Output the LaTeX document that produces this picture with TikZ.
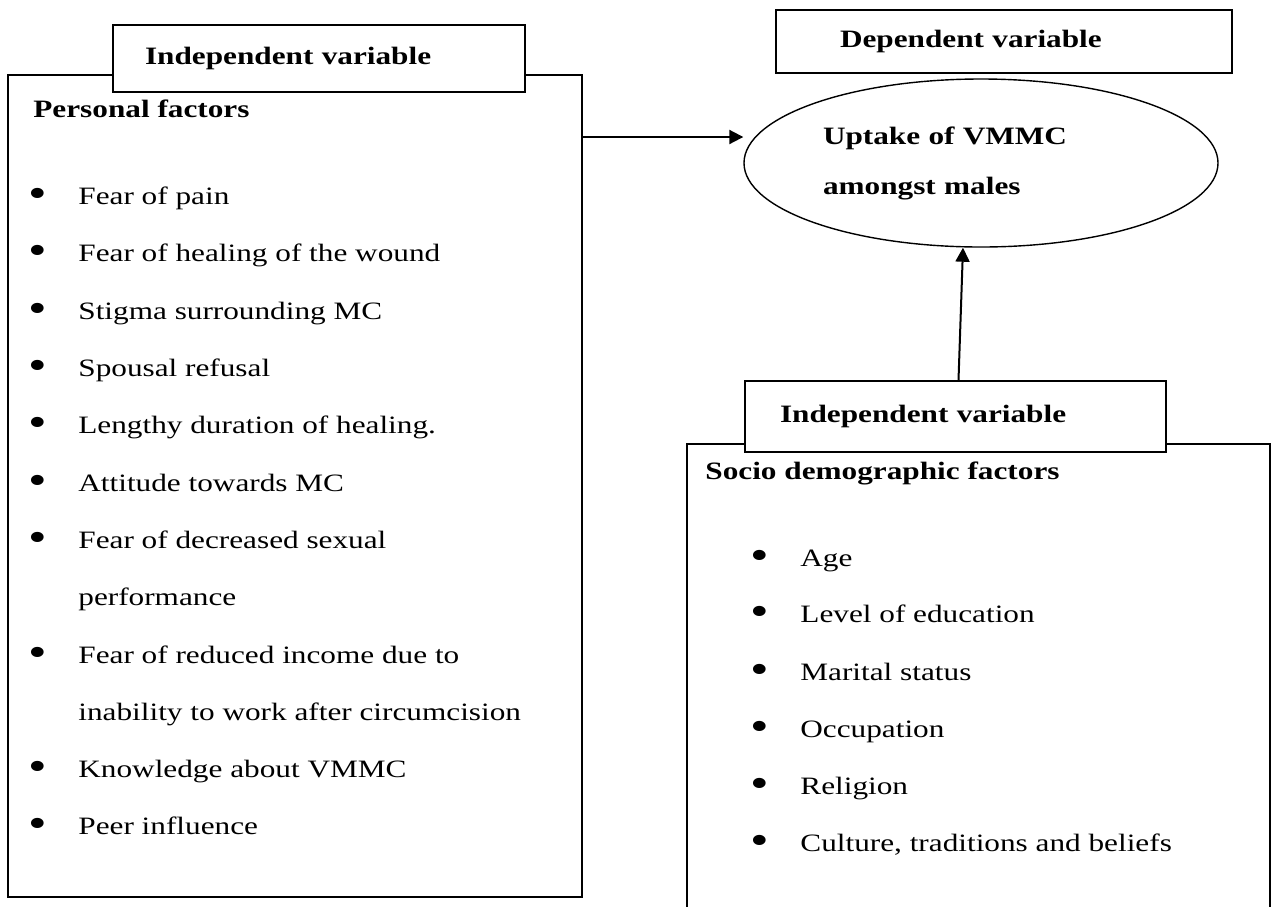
\documentclass[tikz,border=0pt]{standalone}
\usepackage{fontspec}
\setmainfont{Liberation Serif}[FakeStretch=1.25]
\usepackage{graphicx}
\usepackage{tikz}
\usetikzlibrary{arrows.meta, positioning, shapes.geometric}

\newcommand{\dotmark}{\llap{\raisebox{-1.5pt}{\scalebox{1.7}{\textbullet}}\hspace{15.5pt}}}

\begin{document}
\begin{tikzpicture}[
  x=0.5pt, y=-0.5pt,
  frame/.style={rectangle, draw, line width=1pt, inner sep=0pt},
  tag/.style={frame, fill=white, align=left, font=\fontsize{12.5}{15}\selectfont\bfseries},
  head/.style={anchor=base west, inner sep=0pt, font=\fontsize{12.5}{15}\selectfont\bfseries},
  entry/.style={anchor=base west, inner sep=0pt, font=\fontsize{12.5}{15}\selectfont},
  arr/.style={-{Triangle[length=7pt, width=7pt]}, line width=1pt}
]
\useasboundingbox (0,0) rectangle (1274,906);

% left block
\node[frame, minimum width=287pt, minimum height=411pt] (lbox) at (295,486) {};
\node[tag, inner xsep=16pt, text width=174pt, minimum height=33.5pt] (ltag) at (319,58.5) {Independent variable};
\node[head] (pf) at (33,117) {Personal factors};
\node[entry] (p1)  at (78,204) {\dotmark Fear of pain};
\node[entry] (p2)  at (78,261) {\dotmark Fear of healing of the wound};
\node[entry] (p3)  at (78,319) {\dotmark Stigma surrounding MC};
\node[entry] (p4)  at (78,376) {\dotmark Spousal refusal};
\node[entry] (p5)  at (78,433) {\dotmark Lengthy duration of healing.};
\node[entry] (p6)  at (78,491) {\dotmark Attitude towards MC};
\node[entry] (p7)  at (78,548) {\dotmark Fear of decreased sexual};
\node[entry] (p7b) at (78,605) {performance};
\node[entry] (p8)  at (78,663) {\dotmark Fear of reduced income due to};
\node[entry] (p8b) at (78,720) {inability to work after circumcision};
\node[entry] (p9)  at (78,777) {\dotmark Knowledge about VMMC};
\node[entry] (p10) at (78,834) {\dotmark Peer influence};

% dependent variable
\node[tag, inner xsep=32pt, text width=164pt, minimum height=31.5pt] (dtag) at (1004,41.5) {Dependent variable};
\node[ellipse, draw, line width=0.7pt, inner sep=0pt, minimum width=237pt, minimum height=84pt,
      text width=158pt, align=left, font=\fontsize{12.5}{25}\selectfont\bfseries] (ell) at (981,163)
      {Uptake of VMMC\\amongst males};

% right block
\draw[line width=1pt] (687,912) |- (1270,444) -- (1270,912);
\node[tag, inner xsep=17.5pt, text width=175.5pt, minimum height=35.5pt] (rtag) at (955.5,416.5) {Independent variable};
\node[head] (sd) at (705,479) {Socio demographic factors};
\node[entry] (s1) at (800,566) {\dotmark Age};
\node[entry] (s2) at (800,622) {\dotmark Level of education};
\node[entry] (s3) at (800,680) {\dotmark Marital status};
\node[entry] (s4) at (800,737) {\dotmark Occupation};
\node[entry] (s5) at (800,794) {\dotmark Religion};
\node[entry] (s6) at (800,851) {\dotmark Culture, traditions and beliefs};

% arrows
\coordinate (lout) at (582,137);
\draw[arr] (lout) -- (ell.west |- lout);
\draw[arr] ([xshift=1.5pt]rtag.north) -- ([xshift=-9pt]ell.south);
\end{tikzpicture}
\end{document}
